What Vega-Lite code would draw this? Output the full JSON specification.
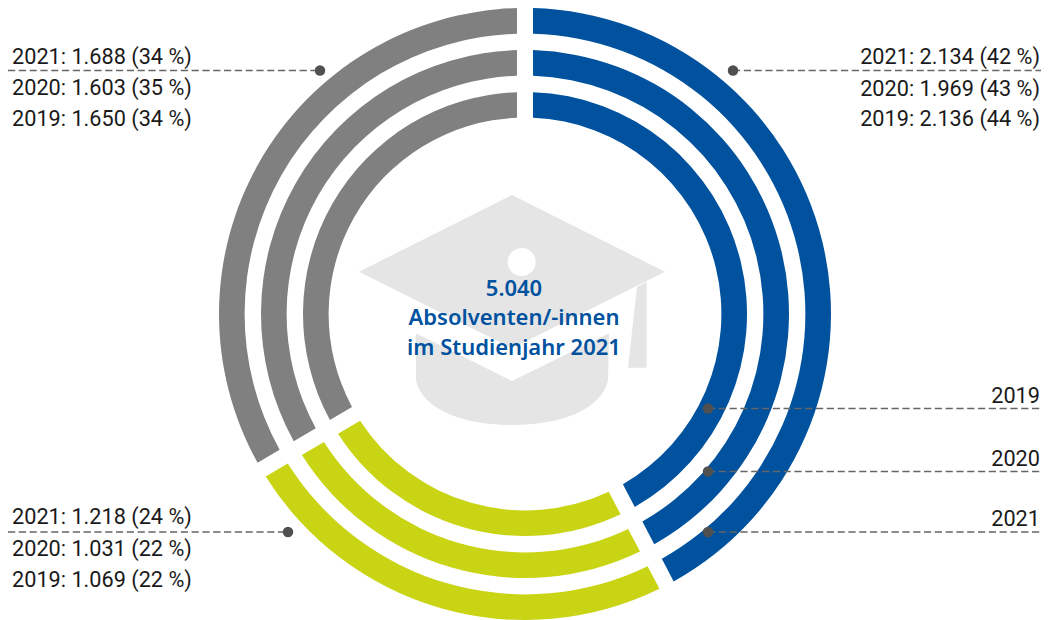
{
"$schema":"https://vega.github.io/schema/vega-lite/v6.json",
"width":1059,"height":620,"padding":0,
"autosize":{"type":"fit","contains":"padding"},
"background":"white",
"config":{"view":{"stroke":null},"axis":{"domain":false,"grid":false,"ticks":false,"labels":false,"title":null}},
"datasets":{
"rings":[
{"year":2021,"ringInner":2020.39,"group":"Blau","order":1,"value":2134,"drawnValue":2134},
{"year":2021,"ringInner":2020.39,"group":"Gelb","order":2,"value":1218,"drawnValue":1218},
{"year":2021,"ringInner":2020.39,"group":"Grau","order":3,"value":1688,"drawnValue":1688},
{"year":2020,"ringInner":2019.39,"group":"Blau","order":1,"value":1969,"drawnValue":2134},
{"year":2020,"ringInner":2019.39,"group":"Gelb","order":2,"value":1031,"drawnValue":1218},
{"year":2020,"ringInner":2019.39,"group":"Grau","order":3,"value":1603,"drawnValue":1688},
{"year":2019,"ringInner":2018.39,"group":"Blau","order":1,"value":2136,"drawnValue":2134},
{"year":2019,"ringInner":2018.39,"group":"Gelb","order":2,"value":1069,"drawnValue":1218},
{"year":2019,"ringInner":2018.39,"group":"Grau","order":3,"value":1650,"drawnValue":1688}
],
"leaders":[
{"a":8,"b":320,"y":70.5},
{"a":733,"b":1041,"y":70.5},
{"a":8,"b":288,"y":532},
{"a":708,"b":1041,"y":408.5},
{"a":708,"b":1041,"y":471.5},
{"a":708,"b":1041,"y":532}
],
"dots":[
{"x":320,"y":70.5},{"x":733,"y":70.5},{"x":288,"y":532},{"x":708,"y":408.5},{"x":708,"y":471.5},{"x":708,"y":532}
],
"labelsLeft":[
{"x":12,"y":64,"t":"2021: 1.688 (34 %)"},
{"x":12,"y":95,"t":"2020: 1.603 (35 %)"},
{"x":12,"y":126,"t":"2019: 1.650 (34 %)"},
{"x":12,"y":524,"t":"2021: 1.218 (24 %)"},
{"x":12,"y":556,"t":"2020: 1.031 (22 %)"},
{"x":12,"y":587,"t":"2019: 1.069 (22 %)"}
],
"labelsRight":[
{"x":1040,"y":64,"t":"2021: 2.134 (42 %)"},
{"x":1040,"y":96,"t":"2020: 1.969 (43 %)"},
{"x":1040,"y":126,"t":"2019: 2.136 (44 %)"},
{"x":1040,"y":403,"t":"2019"},
{"x":1040,"y":466,"t":"2020"},
{"x":1040,"y":526,"t":"2021"}
],
"center":[
{"x":514,"y":296,"t":"5.040"},
{"x":514,"y":325,"t":"Absolventen/-innen"},
{"x":514,"y":355,"t":"im Studienjahr 2021"}
]
},
"layer":[
{"data":{"values":[{"icon":"Doktorhut","x":512,"y":314}]},
 "mark":{"type":"point","filled":true,"opacity":1,"color":"#E5E5E5","size":4,
 "shape":"M 0 -119 L 153 -42.3 L 0 34.3 L -153 -42.3 Z M 23.7 -52 A 14 14 0 1 0 -4.3 -52 A 14 14 0 1 0 23.7 -52 Z M -96 19.3 L 0 67 L 97 19.3 L 96 66 C 90 95 50 111 0 111 C -50 111 -90 95 -96 66 Z M 134.7 -32.3 L 125 -27 L 116 53.7 L 134.7 53.7 Z"},
 "encoding":{"x":{"field":"x","type":"quantitative","scale":{"domain":[0,1059]},"axis":null},"y":{"field":"y","type":"quantitative","scale":{"domain":[620,0]},"axis":null}}},
{"data":{"name":"rings"},
 "transform":[{"stack":"drawnValue","groupby":["year"],"sort":[{"field":"order","order":"ascending"}],"offset":"normalize","as":["startShare","endShare"]}],
 "encoding":{
  "x":{"datum":525,"type":"quantitative","scale":{"domain":[0,1059]},"axis":null},
  "y":{"datum":314,"type":"quantitative","scale":{"domain":[620,0]},"axis":null},
  "theta":{"field":"startShare","type":"quantitative","scale":{"domain":[0,1],"range":[0,6.283185]}},
  "theta2":{"field":"endShare"},
  "radius":{"field":"year","type":"quantitative","scale":{"type":"linear","domain":[2019,2021],"range":[222,306],"zero":false,"nice":false}},
  "radius2":{"field":"ringInner"},
  "color":{"field":"group","type":"nominal","scale":{"domain":["Blau","Gelb","Grau"],"range":["#00529F","#C8D414","#808080"]},"legend":null}
 },
 "layer":[
  {"transform":[{"filter":"datum.year==2021"}],"mark":{"type":"arc","padAngle":0.0386}},
  {"transform":[{"filter":"datum.year==2020"}],"mark":{"type":"arc","padAngle":0.0451}},
  {"transform":[{"filter":"datum.year==2019"}],"mark":{"type":"arc","padAngle":0.0539}}
 ]},
{"data":{"name":"leaders"},
 "mark":{"type":"rule","color":"#666666","strokeWidth":1.4,"strokeDash":[7.2,3.6]},
 "encoding":{"x":{"field":"a","type":"quantitative","scale":{"domain":[0,1059]},"axis":null},"x2":{"field":"b"},"y":{"field":"y","type":"quantitative","scale":{"domain":[620,0]},"axis":null}}},
{"data":{"name":"dots"},
 "mark":{"type":"circle","color":"#505050","opacity":1,"size":110},
 "encoding":{"x":{"field":"x","type":"quantitative","scale":{"domain":[0,1059]},"axis":null},"y":{"field":"y","type":"quantitative","scale":{"domain":[620,0]},"axis":null}}},
{"data":{"name":"labelsLeft"},
 "mark":{"type":"text","align":"left","baseline":"alphabetic","font":"Roboto","fontSize":21.7,"color":"#1a1a1a"},
 "encoding":{"x":{"field":"x","type":"quantitative","scale":{"domain":[0,1059]},"axis":null},"y":{"field":"y","type":"quantitative","scale":{"domain":[620,0]},"axis":null},"text":{"field":"t"}}},
{"data":{"name":"labelsRight"},
 "mark":{"type":"text","align":"right","baseline":"alphabetic","font":"Roboto","fontSize":21.7,"color":"#1a1a1a"},
 "encoding":{"x":{"field":"x","type":"quantitative","scale":{"domain":[0,1059]},"axis":null},"y":{"field":"y","type":"quantitative","scale":{"domain":[620,0]},"axis":null},"text":{"field":"t"}}},
{"data":{"name":"center"},
 "mark":{"type":"text","align":"center","baseline":"alphabetic","font":"Noto Sans","fontWeight":600,"fontSize":22,"color":"#00529F"},
 "encoding":{"x":{"field":"x","type":"quantitative","scale":{"domain":[0,1059]},"axis":null},"y":{"field":"y","type":"quantitative","scale":{"domain":[620,0]},"axis":null},"text":{"field":"t"}}}
]
}
